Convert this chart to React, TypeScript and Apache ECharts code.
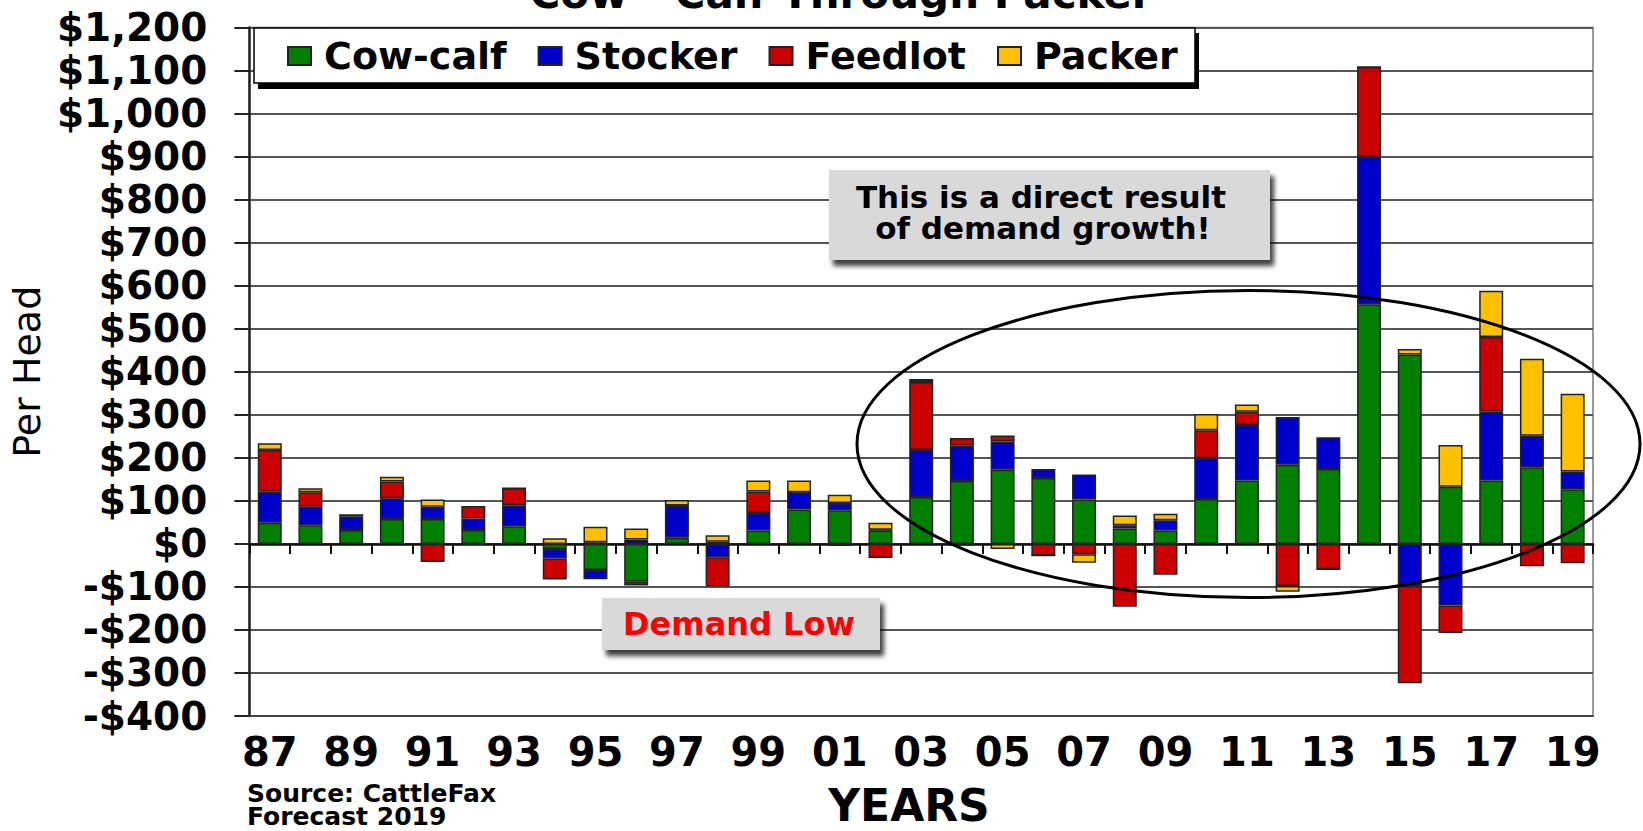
import React, { useEffect, useRef } from "react";
import * as echarts from "echarts";

const years = ["87","88","89","90","91","92","93","94","95","96","97","98","99","00","01","02","03","04","05","06","07","08","09","10","11","12","13","14","15","16","17","18","19"];
const cowCalf = [49,43,32,58,58,32,41,-12,-61,-88,14,5,31,80,78,31,109,146,172,153,103,36,31,104,147,184,174,557,440,133,147,178,127];
const stocker = [72,43,31,48,28,27,49,-22,-21,10,75,-31,41,40,17,2,109,82,66,21,58,7,24,95,129,111,74,342,-98,-143,160,73,41];
const feedlot = [97,34,4,39,-42,29,39,-49,4,-9,0,-68,50,0,-5,-33,158,18,14,-27,-24,-146,-72,65,31,-98,-59,209,-226,-64,174,-52,-45];
const packer = [16,9,0,11,17,-2,0,13,36,26,13,15,25,27,19,16,7,-4,-12,0,-20,23,15,38,17,-13,0,0,13,97,107,179,181];

const seriesNames = ["Cow-calf", "Stocker", "Feedlot", "Packer"];
const seriesColors = ["#008000", "#0000cc", "#cc0000", "#ffc000"];
const yTickMin = -400;
const yTickMax = 1200;
const yTickStep = 100;

const FONT = "DejaVu Sans";

function fmtDollar(v: number): string {
  const s = Math.abs(v).toLocaleString("en-US");
  return v < 0 ? "-$" + s : "$" + s;
}

export default function App() {
  const ref = useRef<HTMLDivElement>(null);
  useEffect(() => {
    document.body.style.margin = "0";
    if (!ref.current) return;
    const chart = echarts.init(ref.current, null, { renderer: "svg" });
    const datasets = [cowCalf, stocker, feedlot, packer];
    const boxShadow = {
      shadowBlur: 5,
      shadowOffsetX: 4,
      shadowOffsetY: 6,
      shadowColor: "rgba(0,0,0,0.75)",
    };
    const option: any = {
      animation: false,
      backgroundColor: "#ffffff",
      grid: {
        left: 248,
        right: 50,
        top: 27.5,
        bottom: 115,
        show: true,
        borderColor: "#777",
        borderWidth: 1.5,
        backgroundColor: "transparent",
      },
      legend: {
        data: seriesNames,
        left: 287,
        top: 36,
        padding: 0,
        itemWidth: 23,
        itemHeight: 18,
        itemGap: 31,
        icon: "rect",
        z: 20,
        textStyle: {
          fontFamily: FONT,
          fontWeight: "bold",
          fontSize: 38,
          color: "#000",
          padding: [0, 0, 0, 8],
          lineHeight: 40,
        },
      },
      xAxis: [
        {
          type: "category",
          data: years,
          position: "bottom",
          axisLine: { onZero: false, lineStyle: { color: "#444", width: 2 } },
          axisTick: { show: false },
          axisLabel: {
            interval: 1,
            fontFamily: FONT,
            fontWeight: "bold",
            fontSize: 40,
            color: "#000",
            margin: 16,
          },
          splitLine: { show: false },
        },
        {
          type: "category",
          data: years,
          position: "bottom",
          axisLine: { onZero: true, lineStyle: { color: "#111", width: 2.5 } },
          axisTick: { show: true, length: 10, lineStyle: { color: "#111", width: 2 } },
          axisLabel: { show: false },
          splitLine: { show: false },
        },
      ],
      yAxis: {
        type: "value",
        min: yTickMin,
        max: yTickMax,
        interval: yTickStep,
        name: "Per Head",
        nameLocation: "middle",
        nameRotate: 90,
        nameGap: 196,
        nameTextStyle: { fontFamily: FONT, fontSize: 38, color: "#000" },
        axisLine: { show: true, lineStyle: { color: "#222", width: 2.5 } },
        axisTick: { show: true, length: 15, lineStyle: { color: "#222", width: 2 } },
        splitLine: { show: true, lineStyle: { color: "#555", width: 2 } },
        axisLabel: {
          formatter: (v: number) => fmtDollar(v),
          fontFamily: FONT,
          fontWeight: "bold",
          fontSize: 39,
          color: "#000",
          margin: 42,
        },
      },
      series: seriesNames.map((name, i) => ({
        name,
        type: "bar",
        stack: "total",
        xAxisIndex: 0,
        barWidth: 24,
        data: datasets[i],
        itemStyle: { color: seriesColors[i], borderColor: "#222", borderWidth: 1.5 },
        emphasis: { disabled: true },
      })),
      graphic: [
        {
          type: "text",
          x: 841,
          y: -7,
          z: 20,
          style: {
            text: "Cow - Calf Through Packer",
            font: `bold 42px "${FONT}"`,
            fill: "#000",
            align: "center",
            verticalAlign: "middle",
          },
        },
        // legend box shadow + box
        { type: "rect", x: 258, y: 33, z: 8, shape: { width: 941, height: 56 }, style: { fill: "#000" } },
        {
          type: "rect",
          x: 254,
          y: 28,
          z: 9,
          shape: { width: 941, height: 55 },
          style: { fill: "#fff", stroke: "#000", lineWidth: 1.5 },
        },
        // annotation boxes
        {
          type: "rect",
          x: 829,
          y: 170,
          z: 9,
          shape: { width: 441, height: 90 },
          style: { fill: "#d9d9d9", ...boxShadow },
        },
        {
          type: "text",
          x: 1041,
          y: 197,
          z: 10,
          style: {
            text: "This is a direct result",
            font: `bold 31px "${FONT}"`,
            lineHeight: 29,
            fill: "#000",
            align: "center",
            verticalAlign: "middle",
          },
        },
        {
          type: "text",
          x: 1043,
          y: 228,
          z: 10,
          style: {
            text: "of demand growth!",
            font: `bold 31px "${FONT}"`,
            lineHeight: 29,
            fill: "#000",
            align: "center",
            verticalAlign: "middle",
          },
        },
        {
          type: "rect",
          x: 602,
          y: 598,
          z: 9,
          shape: { width: 278, height: 52 },
          style: { fill: "#d9d9d9", ...boxShadow },
        },
        {
          type: "text",
          x: 739,
          y: 623.5,
          z: 10,
          style: {
            text: "Demand Low",
            font: `bold 32px "${FONT}"`,
            fill: "#ff0000",
            align: "center",
            verticalAlign: "middle",
          },
        },
        // ellipse
        {
          type: "ellipse",
          z: 10,
          shape: { cx: 1248.5, cy: 444, rx: 391.5, ry: 153.5 },
          style: { fill: "none", stroke: "#000", lineWidth: 3 },
        },
        {
          type: "text",
          x: 909,
          y: 805,
          z: 10,
          style: {
            text: "YEARS",
            font: `bold 44px "${FONT}"`,
            fill: "#000",
            align: "center",
            verticalAlign: "middle",
          },
        },
        {
          type: "text",
          x: 247,
          y: 793,
          z: 10,
          style: {
            text: "Source: CattleFax",
            font: `bold 25px "${FONT}"`,
            lineHeight: 23,
            fill: "#000",
            align: "left",
            verticalAlign: "middle",
          },
        },
        {
          type: "text",
          x: 247,
          y: 816,
          z: 10,
          style: {
            text: "Forecast 2019",
            font: `bold 25px "${FONT}"`,
            lineHeight: 23,
            fill: "#000",
            align: "left",
            verticalAlign: "middle",
          },
        },
      ],
    };
    chart.setOption(option);
    return () => chart.dispose();
  }, []);
  return <div ref={ref} style={{ width: 1643, height: 831 }} />;
}
